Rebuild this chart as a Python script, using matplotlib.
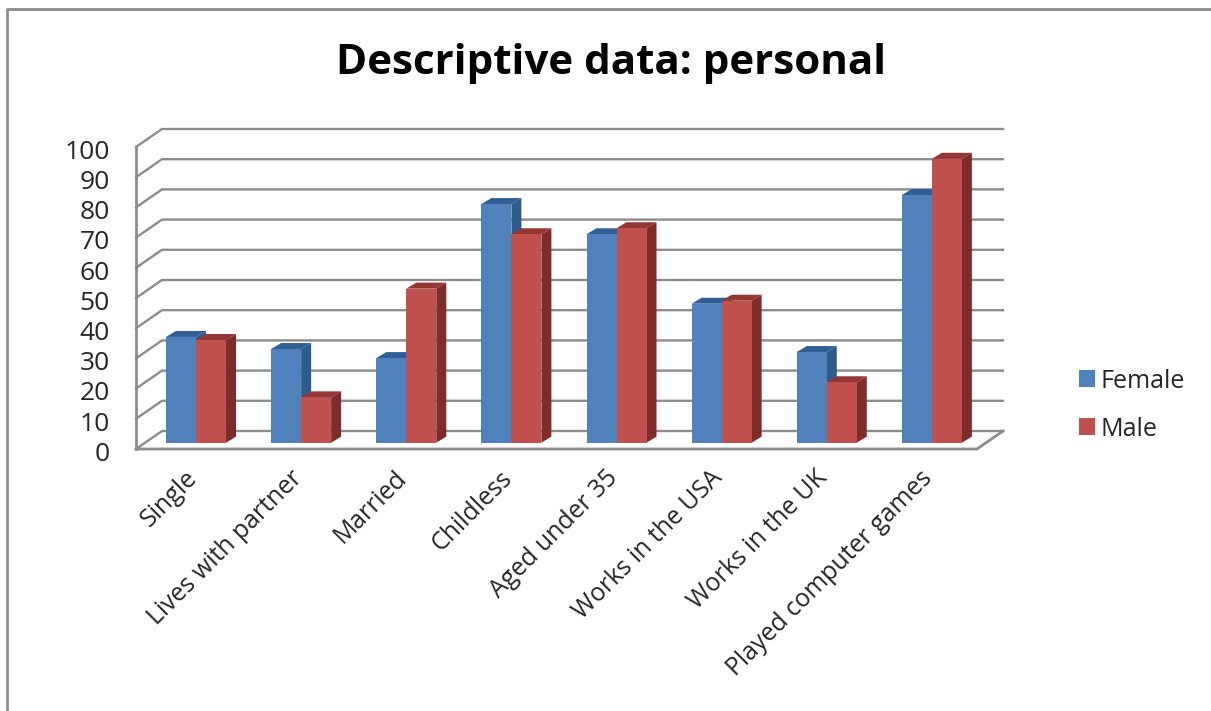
#!/usr/bin/env python3
"""Descriptive data: personal - clustered 3D style column chart"""
import numpy as np
import matplotlib
matplotlib.use('Agg')
import matplotlib.pyplot as plt
from matplotlib.patches import Patch, Polygon, Rectangle
from matplotlib.lines import Line2D
from matplotlib.transforms import ScaledTranslation

categories = ['Single', 'Lives with partner', 'Married', 'Childless',
              'Aged under 35', 'Works in the USA', 'Works in the UK',
              'Played computer games']
female = [35, 31, 28, 79, 69, 46, 30, 82]
male = [34, 15, 51, 69, 71, 47, 20, 94]
y_ticks = list(range(0, 101, 10))

W, H = 1211, 711
FONT = 'Open Sans'
GRID = '#8c8c8c'
TEXT = '#262626'

fig = plt.figure(figsize=(W / 100, H / 100), dpi=100)
ax = fig.add_axes([136 / W, (H - 449) / H, 841 / W, 302 / H])
ax.set_xlim(0, 8)
ax.set_ylim(0, 100)
for s in ax.spines.values():
    s.set_visible(False)
ax.patch.set_visible(False)

# depth of the wall and of the bars, in data units
wall_dx, wall_dy = 26 / 105.1, 18 / 3.02
bar_dx, bar_dy = 10 / 105.1, 6 / 3.02
bar_w = 30 / 105.1
base = 2.1

# walls and floor
for v in y_ticks:
    ax.plot([0, wall_dx, 8 + wall_dx], [v, v + wall_dy, v + wall_dy],
            color=GRID, lw=1.7, clip_on=False, zorder=1)
ax.plot([0, 0], [0, 100], color=GRID, lw=2.0, clip_on=False, zorder=1)
ax.plot([0, 8, 8 + wall_dx], [0, 0, wall_dy], color=GRID, lw=2.0,
        clip_on=False, zorder=1)


def draw_bar(x, v, front, top, side):
    t = base + v
    ax.add_patch(Polygon([(x + bar_w, base), (x + bar_w + bar_dx, base + bar_dy),
                          (x + bar_w + bar_dx, t + bar_dy), (x + bar_w, t)],
                         fc=side, ec='none', clip_on=False, zorder=3))
    ax.add_patch(Polygon([(x, t), (x + bar_dx, t + bar_dy),
                          (x + bar_w + bar_dx, t + bar_dy), (x + bar_w, t)],
                         fc=top, ec='none', clip_on=False, zorder=3))
    ax.add_patch(Rectangle((x, base), bar_w, v, fc=front, ec='none',
                           clip_on=False, zorder=3))


for i in range(len(categories)):
    left = i + bar_w
    draw_bar(left, female[i], '#4f81bd', '#2f5f96', '#2f5a8c')
    draw_bar(left + bar_w, male[i], '#c0504d', '#943634', '#7f2d2b')

# axis labels
ax.set_yticks(y_ticks)
ax.set_yticklabels([str(v) for v in y_ticks], fontsize=19, family=FONT, color=TEXT)
ax.set_xticks(np.arange(len(categories)) + 0.5)
ax.set_xticklabels(categories, rotation=45, ha='right', va='top',
                   rotation_mode='anchor', fontsize=17.9, family=FONT, color=TEXT)
ax.tick_params(axis='y', length=0, pad=19)
ax.tick_params(axis='x', length=0, pad=12)

# nudge the labels a little, y labels down and x labels to the left
shift_y = ScaledTranslation(0, -1.6 / 72, fig.dpi_scale_trans)
for lab in ax.get_yticklabels():
    lab.set_transform(lab.get_transform() + shift_y)
shift_x = ScaledTranslation(-3 / 72, 0, fig.dpi_scale_trans)
for lab in ax.get_xticklabels():
    lab.set_transform(lab.get_transform() + shift_x)

fig.text(611 / W, 1 - 64 / H, 'Descriptive data: personal', fontsize=30.3,
         family=FONT, weight='bold', color='black', ha='center', va='center')

# legend
handles = [Patch(fc='#4f81bd', ec='none'), Patch(fc='#c0504d', ec='none')]
fig.legend(handles, ['Female', 'Male'], loc='center left',
           bbox_to_anchor=(1056 / W, 1 - 405 / H), frameon=False,
           prop={'family': FONT, 'size': 18}, labelcolor=TEXT,
           handlelength=0.64, handleheight=0.64, handletextpad=0.25,
           labelspacing=0.92)

# outer frame
fig.add_artist(Line2D([7 / W, 7 / W, 1], [0, 1 - 9 / H, 1 - 9 / H],
                      color='#8c8c8c', lw=2.0))

fig.savefig('out.png', dpi=100)
